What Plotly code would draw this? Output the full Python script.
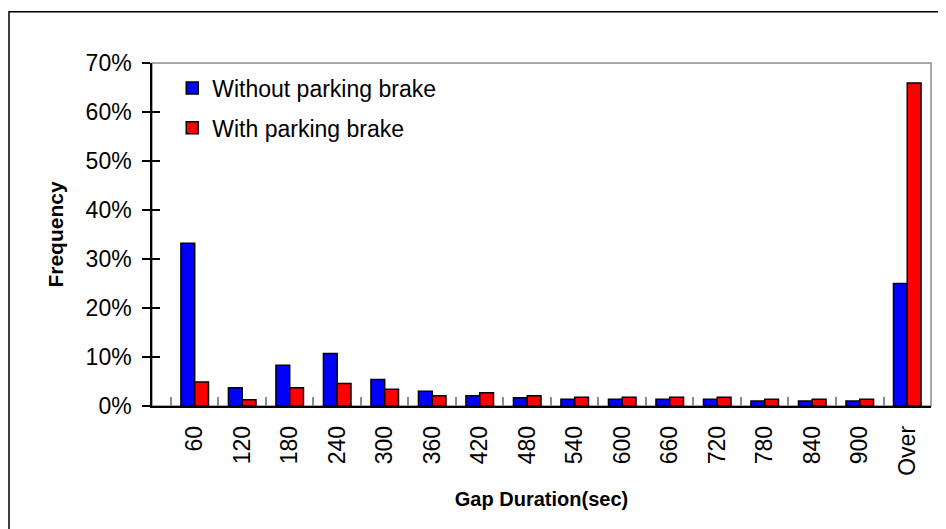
import plotly.graph_objects as go

categories = ["60", "120", "180", "240", "300", "360", "420", "480", "540",
              "600", "660", "720", "780", "840", "900", "Over"]
without_brake = [33.2, 3.7, 8.3, 10.7, 5.4, 3.0, 2.1, 1.7, 1.4, 1.4, 1.4, 1.4, 1.0, 1.0, 1.0, 25.0]
with_brake = [4.9, 1.3, 3.7, 4.6, 3.4, 2.1, 2.7, 2.1, 1.8, 1.8, 1.8, 1.8, 1.4, 1.4, 1.4, 65.9]
y_ticks = [0, 10, 20, 30, 40, 50, 60, 70]

# the page body has an 8px margin, so the figure is drawn 8px smaller and offset
OFF = 8
W, H = 946 - OFF, 529 - OFF
L, R, T, B = 152 - OFF, 15, 63 - OFF, 123
pw, ph = W - L - R, H - T - B

FONT = "Liberation Sans, Arial, sans-serif"

fig = go.Figure()
fig.add_trace(go.Bar(x=categories, y=without_brake, name="Without parking brake",
                     legendgroup="a",
                     marker=dict(color="#0000FF", line=dict(color="black", width=1.5))))
fig.add_trace(go.Bar(x=categories, y=with_brake, name="With parking brake",
                     legendgroup="b",
                     marker=dict(color="#FF0000", line=dict(color="black", width=1.5))))
# invisible helper trace so the overlay axis (inside half of crossing ticks) is drawn
fig.add_trace(go.Scatter(x=categories[:1], y=[None], yaxis="y2", showlegend=False,
                         hoverinfo="skip", mode="markers"))

# outer chart border (extends past right/bottom edges like the reference)
fig.add_shape(type="rect", xref="paper", yref="paper",
              x0=(9 - OFF - L) / pw, x1=(W + 10 - L) / pw,
              y0=-(B + 10) / ph, y1=1 + (T - (11.7 - OFF)) / ph,
              line=dict(color="black", width=1.5), layer="below")
# plot area frame (gray top/right)
fig.add_shape(type="rect", xref="paper", yref="paper", x0=0, x1=1, y0=0, y1=1,
              line=dict(color="#8c8c8c", width=1.5), layer="below")

fig.update_layout(
    template="none",
    width=W, height=H,
    margin=dict(l=L, r=R, t=T, b=B, autoexpand=False),
    paper_bgcolor="white", plot_bgcolor="white",
    font=dict(family=FONT, color="black", size=22),
    barmode="group", bargap=0.42, bargroupgap=0,
    showlegend=True,
    legend=dict(x=0.026, y=0.99, xanchor="left", yanchor="top",
                font=dict(size=23, family=FONT, color="black"),
                bgcolor="rgba(0,0,0,0)", tracegroupgap=7,
                traceorder="grouped"),
    xaxis=dict(
        type="category", tickangle=-90, automargin=False,
        tickfont=dict(size=23, family=FONT),
        ticks="inside", tickson="boundaries", ticklen=9, tickcolor="#8c8c8c", tickwidth=1.5,
        showline=True, linecolor="black", linewidth=1.5,
        showgrid=False, zeroline=False,
        ticklabelstandoff=9,
        title=dict(text="<b>Gap Duration(sec)</b>", font=dict(size=20, family=FONT), standoff=17),
    ),
    yaxis=dict(
        range=[0, 70], tickvals=y_ticks, ticktext=[f"{v}%" for v in y_ticks],
        automargin=False,
        tickfont=dict(size=23, family=FONT),
        ticks="outside", ticklen=8, tickcolor="black", tickwidth=1.5,
        showline=True, linecolor="black", linewidth=1.5,
        showgrid=False, zeroline=False,
        ticklabelstandoff=6,
        title=dict(text="<b>Frequency</b>", font=dict(size=21, family=FONT), standoff=16),
    ),
    yaxis2=dict(
        overlaying="y", side="left", range=[0, 70], tickvals=y_ticks, automargin=False,
        showticklabels=False, ticks="inside", ticklen=8, tickcolor="black", tickwidth=1.5,
        showline=False, showgrid=False, zeroline=False,
    ),
)

fig.write_html("out.html")
